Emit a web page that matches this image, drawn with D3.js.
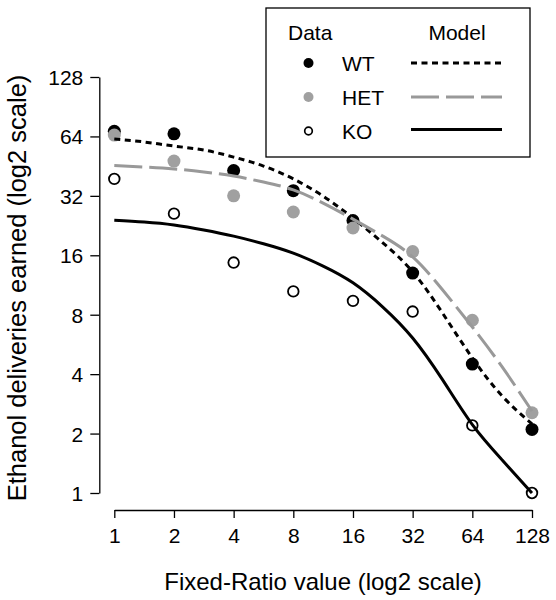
<!DOCTYPE html>
<html>
<head>
<meta charset="utf-8">
<script src="https://cdn.jsdelivr.net/npm/d3@7"></script>
<style>
  html, body { margin: 0; padding: 0; background: #fff; }
  svg { display: block; }
  text { font-family: "Liberation Sans", Arial, Helvetica, sans-serif; fill: #000; }
</style>
</head>
<body>
<svg id="chart" width="556" height="600"></svg>
<script>
// ---- data ----
const fixedRatio = [1, 2, 4, 8, 16, 32, 64, 128];
const wtData  = [68, 66, 43, 34, 24, 13, 4.5, 2.1];
const hetData = [65, 48, 32, 26.5, 22, 16.7, 7.5, 2.55];
const koData  = [39, 26, 14.7, 10.5, 9.4, 8.3, 2.2, 1];

const modelX   = [1, 1.414, 2, 2.828, 4, 5.657, 8, 11.31, 16, 22.63, 32, 45.25, 64, 90.51, 128];
const wtModel  = [62.1, 60.0, 57.2, 54.6, 50.3, 45.3, 39.0, 31.9, 24.7, 18.5, 13.2, 8.16, 4.83, 3.10, 2.24];
const hetModel = [45.6, 44.8, 43.8, 42.3, 40.3, 37.6, 34.3, 29.4, 24.4, 20.0, 15.7, 10.7, 6.93, 4.35, 2.60];
const koModel  = [24.1, 23.6, 22.8, 21.5, 20.0, 18.3, 16.4, 14.1, 11.6, 8.75, 6.10, 3.75, 2.22, 1.47, 1.0];

const xTicks = [1, 2, 4, 8, 16, 32, 64, 128];
const yTicks = [1, 2, 4, 8, 16, 32, 64, 128];
const groups = ["WT", "HET", "KO"];

// ---- drawing ----
const svg = d3.select("#chart");
const x = d3.scaleLog().base(2).domain([1, 128]).range([114.3, 532]);
const y = d3.scaleLog().base(2).domain([1, 128]).range([493, 77]);

const FS = 21;   // tick labels & legend
const FT = 24;   // x axis title
const FTY = 25.5; // y axis title

// axes
const xAxis = svg.append("g").attr("transform", "translate(0,510)")
  .call(d3.axisBottom(x).tickValues(xTicks).tickFormat(d3.format("d"))
        .tickSize(8).tickSizeOuter(0).tickPadding(10));
const yAxis = svg.append("g").attr("transform", "translate(99.3,0)")
  .call(d3.axisLeft(y).tickValues(yTicks).tickFormat(d3.format("d"))
        .tickSize(9).tickSizeOuter(0).tickPadding(7));
[xAxis, yAxis].forEach(g => {
  g.selectAll("path.domain").attr("stroke", "#000").attr("stroke-width", 1.3);
  g.selectAll(".tick line").attr("stroke", "#000").attr("stroke-width", 1.3);
  g.selectAll(".tick text").attr("font-size", FS).attr("font-family", "Liberation Sans, Arial, sans-serif").attr("fill", "#000");
});
xAxis.selectAll(".tick text").attr("dy", null).attr("y", 33);
yAxis.selectAll(".tick text").attr("dy", "0.36em");

// axis titles
svg.append("text").attr("x", 323).attr("y", 590).attr("text-anchor", "middle")
  .attr("font-size", FT).text("Fixed-Ratio value (log2 scale)");
svg.append("text").attr("transform", "translate(25.5,288) rotate(-90)").attr("text-anchor", "middle")
  .attr("font-size", FTY).text("Ethanol deliveries earned (log2 scale)");

const styles = {
  WT:  { stroke: "#000", dash: "6,4.5" },
  HET: { stroke: "#999", dash: "28,7" },
  KO:  { stroke: "#000", dash: null }
};

// data points (drawn first, lines on top)
const datas = { WT: wtData, HET: hetData, KO: koData };
function drawPoints(g) {
  svg.append("g").selectAll("circle").data(datas[g]).join("circle")
    .attr("cx", (d, i) => x(fixedRatio[i])).attr("cy", d => y(d))
    .attr("r", g === "KO" ? 5.3 : 6.5)
    .attr("fill", g === "WT" ? "#000" : g === "HET" ? "#a0a0a0" : "none")
    .attr("stroke", g === "KO" ? "#000" : "none")
    .attr("stroke-width", g === "KO" ? 1.8 : 0);
}
drawPoints("WT");
drawPoints("HET");
drawPoints("KO");

// model lines
const line = vals => d3.line().curve(d3.curveNatural)
  .x((d, i) => x(modelX[i])).y(d => y(d))(vals);
const models = { WT: wtModel, HET: hetModel, KO: koModel };
groups.forEach(g => {
  svg.append("path").attr("d", line(models[g]))
    .attr("fill", "none").attr("stroke", styles[g].stroke)
    .attr("stroke-width", 3).attr("stroke-dasharray", styles[g].dash);
});

// legend
const lg = svg.append("g");
lg.append("rect").attr("x", 266).attr("y", 8).attr("width", 264).attr("height", 149)
  .attr("fill", "#fff").attr("stroke", "#000").attr("stroke-width", 1.3);
lg.append("text").attr("x", 288).attr("y", 40).attr("font-size", FS).text("Data");
lg.append("text").attr("x", 457).attr("y", 40).attr("text-anchor", "middle").attr("font-size", FS).text("Model");
const rowY = [63, 97, 131];
groups.forEach((g, i) => {
  const cy = rowY[i];
  lg.append("circle").attr("cx", 308.5).attr("cy", cy)
    .attr("r", g === "KO" ? 3.8 : 5)
    .attr("fill", g === "WT" ? "#000" : g === "HET" ? "#a0a0a0" : "#fff")
    .attr("stroke", g === "KO" ? "#000" : "none").attr("stroke-width", g === "KO" ? 1.7 : 0);
  lg.append("text").attr("x", 342).attr("y", cy).attr("dy", "0.36em").attr("font-size", FS).text(g);
  lg.append("line").attr("x1", 411).attr("x2", 502).attr("y1", cy - (i === 2 ? 1.5 : 0)).attr("y2", cy - (i === 2 ? 1.5 : 0))
    .attr("stroke", styles[g].stroke).attr("stroke-width", 3).attr("stroke-dasharray", styles[g].dash);
});
</script>
</body>
</html>
